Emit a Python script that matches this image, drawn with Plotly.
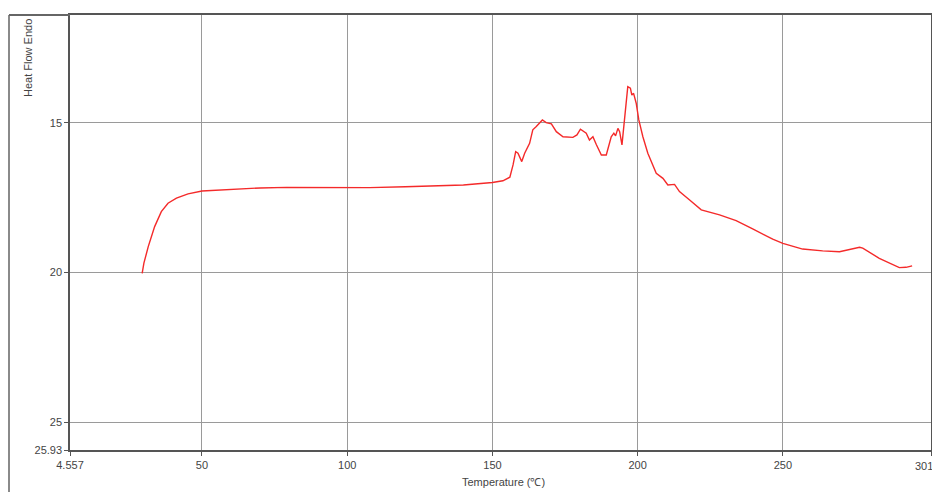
import plotly.graph_objects as go

temperature = [29.4, 29.7, 30.0, 31.5, 33.7, 36.0, 38.3, 41.2, 45.2, 50.0, 60, 70, 79.1, 90, 100, 107.7,
               120, 130, 140, 150, 153.6, 156.0, 157.1, 158.0, 158.8, 160.1, 161.1, 162.8, 163.9, 165.1,
               166.2, 167.2, 168.5, 170.3, 172.0, 174.3, 177.7, 179.1, 180.3, 181.7, 182.3, 183.4, 184.6,
               185.8, 187.5, 189.2, 190.9, 191.8, 192.4, 193.2, 193.8, 194.6, 195.3, 196.1, 196.6, 197.5,
               198.0, 198.6, 199.5, 200.4, 201.8, 203.5, 205.2, 206.4, 208.7, 210.4, 212.7, 214.4, 217.9,
               221.9, 228.2, 233.9, 239.6, 246.5, 250.0, 256.8, 263.7, 269.5, 276.4, 277.5, 283.2, 290.1,
               292.4, 294.5]
heat_flow = [20.03, 19.81, 19.69, 19.14, 18.47, 17.97, 17.69, 17.52, 17.38, 17.28, 17.22, 17.18, 17.16,
             17.17, 17.18, 17.17, 17.14, 17.12, 17.08, 17.0, 16.94, 16.82, 16.41, 15.97, 16.02, 16.30,
             16.02, 15.69, 15.24, 15.13, 15.02, 14.91, 15.0, 15.04, 15.30, 15.47, 15.49, 15.41, 15.22,
             15.30, 15.35, 15.58, 15.47, 15.74, 16.08, 16.08, 15.47, 15.35, 15.44, 15.19, 15.30, 15.74,
             15.02, 14.24, 13.80, 13.85, 14.08, 14.02, 14.35, 14.91, 15.47, 16.02, 16.41, 16.69, 16.86,
             17.08, 17.06, 17.30, 17.58, 17.91, 18.08, 18.27, 18.55, 18.89, 19.03, 19.22, 19.28, 19.31,
             19.16, 19.19, 19.53, 19.84, 19.83, 19.78]

x_ticks = [4.557, 50, 100, 150, 200, 250, 301]
x_tick_labels = ["4.557", "50", "100", "150", "200", "250", "301"]
y_ticks = [15, 20, 25, 25.93]
y_tick_labels = ["15", "20", "25", "25.93"]

# page body has an 8px margin, so the figure is offset by 8px in the screenshot
OFF = 8
W, H = 940 - OFF, 492 - OFF
L, R, T, B = 70 - OFF, 940 - 931, 15 - OFF, 492 - 450
pw, ph = W - L - R, H - T - B

def px_x(p):
    return (p - OFF - L) / pw

def px_y(p):
    return (H - B - (p - OFF)) / ph

fig = go.Figure()
fig.add_trace(go.Scatter(x=temperature, y=heat_flow, mode="lines",
                         line=dict(color="#f42a2a", width=1.4), showlegend=False,
                         hoverinfo="x+y"))

font = dict(family="Liberation Sans, Arial, sans-serif", size=11, color="#444444")

# the last x tick label sits right-aligned at the axis end (drawn as annotation)
x_axis_labels = x_tick_labels[:-1] + [""]

fig.update_layout(
    width=W, height=H,
    margin=dict(l=L, r=R, t=T, b=B, autoexpand=False),
    paper_bgcolor="white", plot_bgcolor="white",
    font=font,
    xaxis=dict(range=[4.557, 301], tickvals=x_ticks, ticktext=x_axis_labels,
               showgrid=True, gridcolor="#9a9a9a", gridwidth=1,
               showline=True, linecolor="#555555", linewidth=1.5, mirror=True,
               ticks="outside", ticklen=4, tickcolor="#555555", zeroline=False,
               ticklabeloverflow="allow", automargin=False,
               tickfont=font),
    yaxis=dict(range=[25.93, 11.405], tickvals=y_ticks, ticktext=y_tick_labels,
               showgrid=True, gridcolor="#9a9a9a", gridwidth=1,
               showline=True, linecolor="#555555", linewidth=1.5, mirror=True,
               ticks="outside", ticklen=4, tickcolor="#555555", zeroline=False,
               automargin=False,
               tickfont=font),
    annotations=[
        dict(text=x_tick_labels[-1], xref="paper", yref="paper", x=px_x(935), y=px_y(466),
             xanchor="right", yanchor="middle", showarrow=False, font=font),
        dict(text="Temperature (℃)", xref="paper", yref="paper", x=px_x(503), y=px_y(482),
             xanchor="center", yanchor="middle", showarrow=False, font=font),
        dict(text="Heat Flow Endo", xref="paper", yref="paper", x=px_x(28), y=px_y(17),
             xanchor="center", yanchor="top", textangle=-90, showarrow=False, font=font),
    ],
    shapes=[
        dict(type="line", xref="paper", yref="paper", x0=px_x(9), x1=px_x(9),
             y0=px_y(15), y1=px_y(492), line=dict(color="#8a8a8a", width=2)),
        dict(type="line", xref="paper", yref="paper", x0=px_x(9), x1=px_x(70),
             y0=px_y(15), y1=px_y(15), line=dict(color="#666666", width=2)),
        dict(type="line", xref="paper", yref="paper", x0=px_x(935), x1=px_x(935),
             y0=px_y(10), y1=px_y(492), line=dict(color="#b0b0b0", width=2)),
    ],
)

fig.write_html("out.html")
